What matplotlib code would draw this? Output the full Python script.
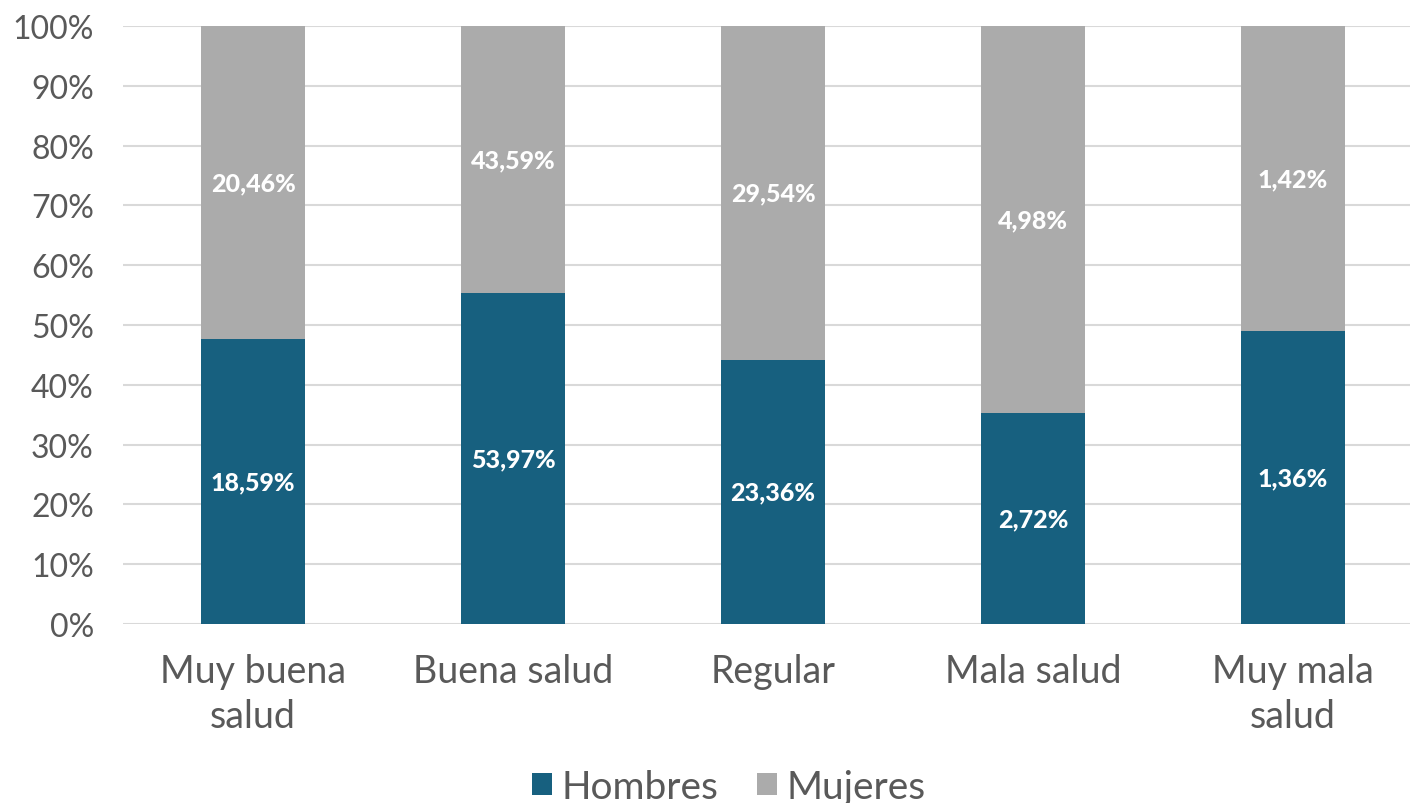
import numpy as np
import matplotlib.pyplot as plt
from matplotlib.ticker import PercentFormatter

categorias = ["Muy buena\nsalud", "Buena salud", "Regular", "Mala salud", "Muy mala\nsalud"]
hombres = [18.59, 53.97, 23.36, 2.72, 1.36]
mujeres = [20.46, 43.59, 29.54, 4.98, 1.42]

plt.rcParams['font.family'] = ['Lato', 'DejaVu Sans']

h = np.array(hombres)
m = np.array(mujeres)
tot = h + m
h_pct = h / tot * 100
m_pct = m / tot * 100

fig = plt.figure(figsize=(14.1, 8.04), dpi=100)
ax = fig.add_axes([123 / 1410, 1 - 625 / 804, 1300 / 1410, 598 / 804])

x = np.arange(len(categorias))
c_h = "#17607F"
c_m = "#ABABAB"
ax.bar(x, h_pct, width=0.4, color=c_h, label="Hombres", zorder=3)
ax.bar(x, m_pct, width=0.4, bottom=h_pct, color=c_m, label="Mujeres", zorder=3)

for i in range(len(x)):
    ax.text(x[i], h_pct[i] / 2, f"{hombres[i]:.2f}%".replace(".", ","),
            ha="center", va="center", color="white", fontsize=18, fontweight="black", zorder=4)
    ax.text(x[i], h_pct[i] + m_pct[i] / 2, f"{mujeres[i]:.2f}%".replace(".", ","),
            ha="center", va="center", color="white", fontsize=18, fontweight="black", zorder=4)

ax.set_xlim(-0.5, 4.5)
ax.set_ylim(0, 100)
ax.set_yticks(np.arange(0, 101, 10))
ax.yaxis.set_major_formatter(PercentFormatter(decimals=0))
ax.set_xticks(x)
ax.set_xticklabels(categorias, fontsize=27, color="#595959", linespacing=1.3)
ax.tick_params(axis="y", labelsize=23, labelcolor="#595959", length=0, pad=21)
ax.tick_params(axis="x", length=0, pad=21)
ax.grid(axis="y", color="#D9D9D9", linewidth=1.5, zorder=0)
for s in ax.spines.values():
    s.set_visible(False)

fig.legend(loc="center", bbox_to_anchor=(0.517, 0.02), ncol=2, frameon=False,
           fontsize=28, labelcolor="#595959", handlelength=0.5, handleheight=0.5,
           handletextpad=0.25, columnspacing=1.0)

fig.savefig("out.png", dpi=100)
